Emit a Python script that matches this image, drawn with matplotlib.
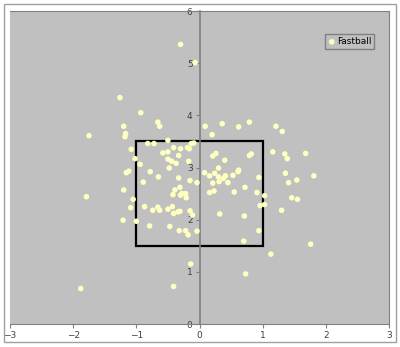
import matplotlib
matplotlib.use("Agg")
import matplotlib.pyplot as plt
from matplotlib.patches import Rectangle

# pitch locations (plate_x in ft, plate_z in ft)
px = [-0.30, -0.07, -1.26, -0.93, -1.20, -0.66, -0.63, -1.75, -1.17, -1.18,
      -0.50, -0.82, -0.72, -1.08, -0.58, -0.50, -0.41, -0.30, -0.19, -0.13,
      -0.09, -0.16, -0.33, -0.50, -0.44, -0.37, -1.02, -0.94, -0.17, -0.48,
      -1.16, -1.12, -0.78, -0.65, -0.89, -0.33, -0.15, -0.04, -1.20, -0.31,
      -0.39, -0.42, -0.28, -0.22, -0.30, -0.21, -1.05, -1.09, -0.87, -0.74,
      -0.66, -0.63, -0.50, -0.43, -0.41, -0.34, -0.31, -0.15, -0.11, -1.21,
      -1.00, -0.79, -0.47, -0.32, -0.22, -0.18, -0.04, -1.79, -0.14, -0.41,
      -1.88, 0.08, 0.16, 0.24, 0.30, 0.41, 0.38, 0.21, 0.31, 0.45,
      0.53, 0.61, 0.94, 0.16, 0.23, 0.55, 0.72, 0.91, 1.03, 1.03,
      0.96, 0.32, 0.71, 0.94, 0.70, 1.36, 1.41, 1.54, 1.46, 1.55,
      1.30, 1.81, 1.76, 1.13, 0.73, 0.09, 0.36, 0.62, 0.79, 0.20,
      1.21, 1.31, 0.21, 0.26, 0.40, 0.79, 0.82, 1.16, 1.35, 1.39,
      0.30, 0.62, 1.68]
pz = [5.36, 5.01, 4.34, 4.05, 3.79, 3.87, 3.79, 3.61, 3.65, 3.59,
      3.52, 3.46, 3.46, 3.35, 3.28, 3.30, 3.38, 3.36, 3.38, 3.46,
      3.47, 3.36, 3.23, 3.16, 3.12, 3.08, 3.17, 3.06, 3.12, 2.99,
      2.90, 2.93, 2.92, 2.82, 2.72, 2.80, 2.75, 2.71, 2.57, 2.62,
      2.57, 2.48, 2.50, 2.50, 2.47, 2.42, 2.39, 2.23, 2.25, 2.18,
      2.24, 2.18, 2.20, 2.25, 2.12, 2.15, 2.16, 2.17, 2.09, 1.99,
      1.97, 1.88, 1.87, 1.79, 1.79, 1.71, 1.78, 2.44, 1.15, 0.72,
      0.68, 2.90, 2.84, 2.89, 2.82, 2.84, 2.79, 2.70, 2.73, 2.71,
      2.85, 2.92, 2.81, 2.52, 2.55, 2.53, 2.62, 2.52, 2.46, 2.29,
      2.27, 2.11, 2.07, 1.79, 1.59, 2.89, 2.71, 2.76, 2.42, 2.39,
      2.18, 2.84, 1.53, 1.34, 0.96, 3.79, 3.84, 3.78, 3.87, 3.63,
      3.79, 3.69, 3.22, 3.27, 3.14, 3.23, 3.26, 3.30, 3.26, 3.17,
      2.99, 2.95, 3.27]

# strike zone
zone_x = [-1, 1]
zone_z = [1.5, 3.5]

xticks = [-3, -2, -1, 0, 1, 2, 3]
yticks = [0, 1, 2, 3, 4, 5, 6]

fig = plt.figure(figsize=(4, 3.47), dpi=100)
fig.patches.append(Rectangle((4 / 400, 5 / 347), 392 / 400, 338 / 347,
                             transform=fig.transFigure, fill=False,
                             edgecolor="#a0a0a0", linewidth=1))
ax = fig.add_axes([10 / 400, 23 / 347, 379 / 400, 313 / 347])
ax.set_facecolor("#c0c0c0")

ax.scatter(px, pz, s=16, color="#ffffc0", edgecolors="none", zorder=3,
           label="Fastball")
ax.add_patch(Rectangle((zone_x[0], zone_z[0]), zone_x[1] - zone_x[0],
                       zone_z[1] - zone_z[0], fill=False,
                       edgecolor="black", linewidth=1.6, zorder=2))

ax.set_xlim(-3, 3)
ax.set_ylim(0, 6)
ax.set_xticks(xticks)
ax.set_yticks(yticks)

for s in ["top", "right"]:
    ax.spines[s].set_color("#808080")
ax.spines["bottom"].set_color("#808080")
ax.spines["left"].set_position(("data", 0))
ax.spines["left"].set_color("#808080")
ax.spines["left"].set_linewidth(1.2)
ax.tick_params(colors="#808080", labelcolor="#404040", labelsize=6.5,
               length=3, width=0.8, pad=2)

ax.legend(loc="upper left", bbox_to_anchor=(0.83, 0.925), fontsize=6.5,
          fancybox=False, framealpha=1, facecolor="#c0c0c0",
          edgecolor="#808080", handletextpad=0.1, borderpad=0.3,
          handlelength=1, borderaxespad=0)

fig.savefig("out.png", dpi=100)
